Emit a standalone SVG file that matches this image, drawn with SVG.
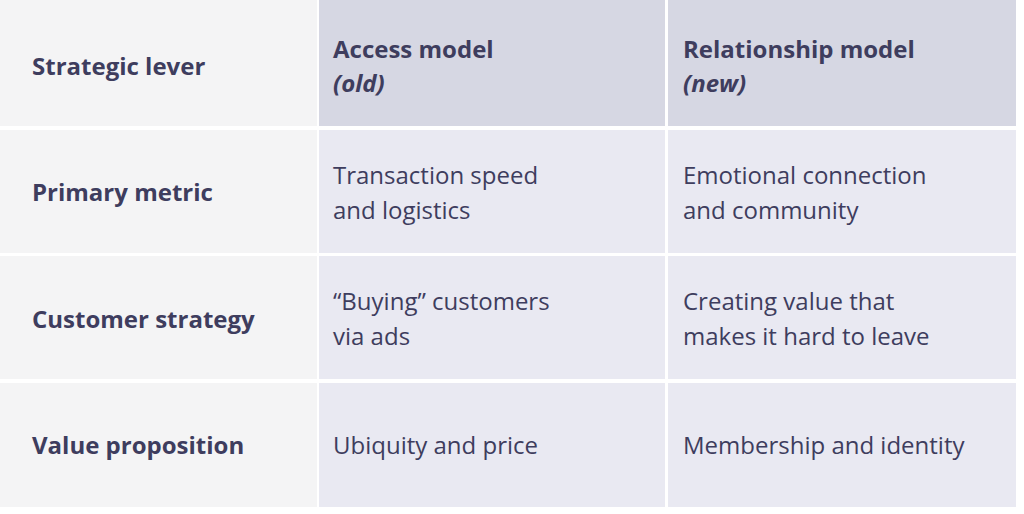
<svg xmlns="http://www.w3.org/2000/svg" width="1024" height="514" viewBox="0 0 1024 514">
<style>
.c1{fill:#f4f4f5}.hd{fill:#d6d7e3}.bd{fill:#e9e9f2}
text{font-family:"Open Sans","Liberation Sans",sans-serif;font-size:24px;fill:#3e3d5e}
.b{font-weight:bold}.i{font-style:italic}
</style>
<rect width="1024" height="514" fill="#ffffff"/>
<g id="header">
<rect class="c1" x="0" y="0" width="317" height="126"/>
<rect class="hd" x="319" y="0" width="346" height="126"/>
<rect class="hd" x="668" y="0" width="348" height="126"/>
<text class="b" x="32" y="75">Strategic lever</text>
<text class="b" x="333" y="58">Access model</text>
<text class="b i" x="333" y="92">(old)</text>
<text class="b" x="683" y="58">Relationship model</text>
<text class="b i" x="683" y="92">(new)</text>
</g>
<g id="row1">
<rect class="c1" x="0" y="130" width="317" height="123"/>
<rect class="bd" x="319" y="130" width="346" height="123"/>
<rect class="bd" x="668" y="130" width="348" height="123"/>
<text class="b" x="32" y="201">Primary metric</text>
<text x="333" y="184">Transaction speed</text>
<text x="333" y="219">and logistics</text>
<text x="683" y="184">Emotional connection</text>
<text x="683" y="219">and community</text>
</g>
<g id="row2">
<rect class="c1" x="0" y="256" width="317" height="123"/>
<rect class="bd" x="319" y="256" width="346" height="123"/>
<rect class="bd" x="668" y="256" width="348" height="123"/>
<text class="b" x="32" y="328">Customer strategy</text>
<text x="333" y="310">“Buying” customers</text>
<text x="333" y="345">via ads</text>
<text x="683" y="310">Creating value that</text>
<text x="683" y="345">makes it hard to leave</text>
</g>
<g id="row3">
<rect class="c1" x="0" y="383" width="317" height="124"/>
<rect class="bd" x="319" y="383" width="346" height="124"/>
<rect class="bd" x="668" y="383" width="348" height="124"/>
<text class="b" x="32" y="454">Value proposition</text>
<text x="333" y="454">Ubiquity and price</text>
<text x="683" y="454">Membership and identity</text>
</g>
<g id="connectors"/>
</svg>
